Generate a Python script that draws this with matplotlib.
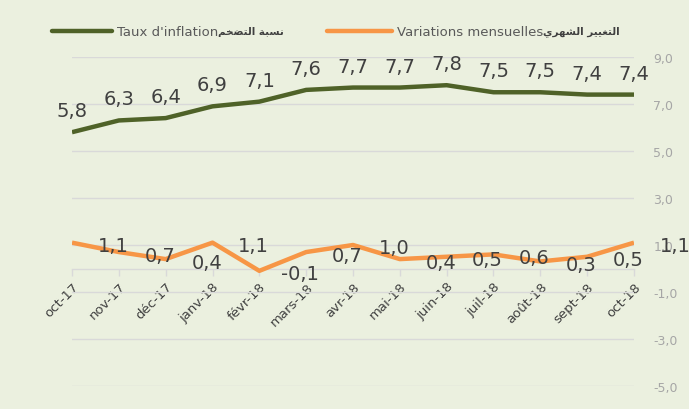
import matplotlib.pyplot as plt
from matplotlib.lines import Line2D

# data
months = ['oct-17', 'nov-17', 'déc-17', 'janv-18', 'févr-18', 'mars-18', 'avr-18',
          'mai-18', 'juin-18', 'juil-18', 'août-18', 'sept-18', 'oct-18']
inflation = [5.8, 6.3, 6.4, 6.9, 7.1, 7.6, 7.7, 7.7, 7.8, 7.5, 7.5, 7.4, 7.4]
monthly = [1.1, 0.7, 0.4, 1.1, -0.1, 0.7, 1.0, 0.4, 0.5, 0.6, 0.3, 0.5, 1.1]
yticks = [-5, -3, -1, 1, 3, 5, 7, 9]

# arabic written in presentation forms, visual order (matplotlib does no shaping)
ar_inflation = '\ufee2\ufea8\ufec0\ufe98\ufedf\ufe8d \ufe94\ufe92\ufeb4\ufee7'
ar_monthly = '\ufef1\ufeae\ufeec\ufeb8\ufedf\ufe8d \ufeae\ufef4\ufef4\ufed0\ufe98\ufedf\ufe8d'

bg = '#EBF0DF'
green = '#4F6228'
orange = '#F79646'
grid_c = '#D9D9D9'
txt = '#404040'

plt.rcParams['font.family'] = ['DejaVu Sans']

fig = plt.figure(figsize=(6.89, 4.10), dpi=100, facecolor=bg)
W, H = 689, 410
ax = fig.add_axes([72 / W, 1 - 387 / H, (634 - 72) / W, (387 - 58) / H])
ax.set_facecolor(bg)

x = list(range(len(months)))
ax.plot(x, inflation, color=green, lw=3.2, solid_capstyle='butt', zorder=3)
ax.plot(x, monthly, color=orange, lw=3.2, solid_capstyle='butt', zorder=3)

for xi, v in zip(x, inflation):
    ax.annotate(f'{v:.1f}'.replace('.', ','), (xi, v), xytext=(0, 16),
                textcoords='offset pixels', ha='center', va='baseline',
                fontsize=14, color=txt, zorder=4)
for xi, v in zip(x, monthly):
    ax.annotate(f'{v:.1f}'.replace('.', ','), (xi, v), xytext=(41, -3),
                textcoords='offset pixels', ha='center', va='center',
                fontsize=14, color=txt, zorder=4, annotation_clip=False)

ax.set_xlim(0, len(months) - 1)
ax.set_ylim(-5, 9)
ax.set_yticks(yticks)
ax.set_yticklabels([f'{t:.1f}'.replace('.', ',') for t in yticks])
ax.yaxis.tick_right()
ax.tick_params(axis='y', length=0, pad=14, labelsize=9, labelcolor='#A6A6A6')
ax.grid(axis='y', color=grid_c, lw=1)
ax.set_axisbelow(True)

for s in ['top', 'left', 'right']:
    ax.spines[s].set_visible(False)
ax.spines['bottom'].set_position(('data', 0))
ax.spines['bottom'].set_color(grid_c)
ax.spines['bottom'].set_linewidth(1)
ax.set_xticks(x)
ax.set_xticklabels(months, rotation=45, ha='right', va='top',
                   rotation_mode='anchor', fontsize=9.5, color=txt)
ax.tick_params(axis='x', length=5, width=1, color=grid_c, pad=3)

# legend drawn by hand at the top
ly = 1 - 32 / H
rend = fig.canvas.get_renderer()


def legend_entry(x0, x1, color, label, ar):
    fig.add_artist(Line2D([x0 / W, x1 / W], [ly, ly], color=color, lw=3.2,
                          solid_capstyle='round', transform=fig.transFigure))
    t = fig.text((x1 + 5) / W, ly, label, fontsize=9.5, color='#595959',
                 va='center', ha='left')
    end = t.get_window_extent(rend).x1
    fig.text(end / W, ly, ar, fontsize=7.5, fontweight='bold', color='#404040',
             va='center', ha='left')


legend_entry(52, 112, green, "Taux d'inflation", ar_inflation)
legend_entry(327, 392, orange, 'Variations mensuelles', ar_monthly)

fig.savefig('out.png', dpi=100, facecolor=bg)
